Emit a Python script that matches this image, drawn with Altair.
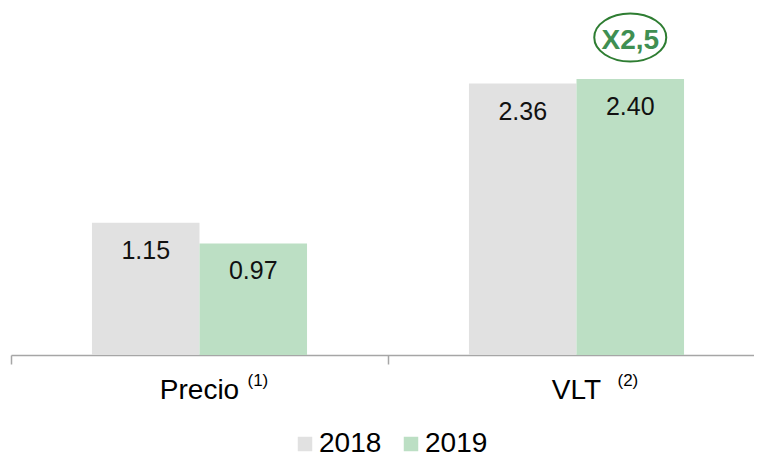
import altair as alt
import pandas as pd

categories = ["Precio", "VLT"]
superscripts = ["(1)", "(2)"]
years = ["2018", "2019"]
values_2018 = [1.15, 2.36]
values_2019 = [0.97, 2.40]
annotation_text = "X2,5"
annotation_category = "VLT"
annotation_year = "2019"
annotation_value = 2.40

colors = ["#e1e1e1", "#bcdfc4"]
FONT = "Liberation Sans"

rows = []
for c, v18, v19 in zip(categories, values_2018, values_2019):
    rows.append({"cat": c, "year": "2018", "value": v18})
    rows.append({"cat": c, "year": "2019", "value": v19})
df = pd.DataFrame(rows)

cat_df = pd.DataFrame({"cat": categories, "sup": superscripts, "zero": [0, 0]})
ann_df = pd.DataFrame({"cat": [annotation_category], "year": [annotation_year],
                       "value": [annotation_value], "label": [annotation_text]})

x_enc = alt.X("cat:N", sort=categories, title=None,
              scale=alt.Scale(paddingInner=0, paddingOuter=0, range=[0, 754]),
              axis=alt.Axis(labels=False, domainColor="#a6a6a6", domainWidth=1.5,
                            tickColor="#a6a6a6", tickWidth=1.5, tickSize=9,
                            bandPosition=0, ticks=True, grid=False))
xo_enc = alt.XOffset("year:N", sort=years,
                     scale=alt.Scale(paddingOuter=0.753, paddingInner=0))
y_enc = alt.Y("value:Q", scale=alt.Scale(domain=[0, 3], nice=False), axis=None)

bars = alt.Chart(df).mark_bar().encode(
    x=x_enc, xOffset=xo_enc, y=y_enc,
    color=alt.Color("year:N", sort=years,
                    scale=alt.Scale(domain=years, range=colors),
                    legend=alt.Legend(title=None, orient="none", direction="horizontal",
                                      legendX=280, legendY=420, padding=0,
                                      symbolType="square", symbolSize=210,
                                      symbolStrokeWidth=0, labelFontSize=28,
                                      labelFont=FONT, labelColor="#000000",
                                      labelOffset=0, columnPadding=15)),
)

value_labels = alt.Chart(df).mark_text(
    baseline="middle", dy=28, fontSize=25, font=FONT, color="#111111"
).encode(x=alt.X("cat:N", sort=categories), xOffset=alt.XOffset("year:N", sort=years),
         y="value:Q", text=alt.Text("value:Q", format=".2f"))

cat_labels = alt.Chart(cat_df).mark_text(
    baseline="alphabetic", dy=44, fontSize=28, font=FONT, color="#000000", align="center"
).encode(x=alt.X("cat:N", sort=categories), y=alt.Y("zero:Q"), text="cat:N")

sup1 = alt.Chart(cat_df).transform_filter(alt.datum.cat == categories[0]).mark_text(
    baseline="alphabetic", dy=31, dx=48, fontSize=17, font=FONT, color="#000000", align="left"
).encode(x=alt.X("cat:N", sort=categories), y=alt.Y("zero:Q"), text="sup:N")

sup2 = alt.Chart(cat_df).transform_filter(alt.datum.cat == categories[1]).mark_text(
    baseline="alphabetic", dy=31, dx=41, fontSize=17, font=FONT, color="#000000", align="left"
).encode(x=alt.X("cat:N", sort=categories), y=alt.Y("zero:Q"), text="sup:N")

ellipse_path = "M -1 0 A 1 0.667 0 1 1 1 0 A 1 0.667 0 1 1 -1 0 Z"
ann_ellipse = alt.Chart(ann_df).mark_point(
    shape=ellipse_path, size=5184, filled=False, stroke="#2e7d32", strokeWidth=2,
    opacity=1, yOffset=-41.5
).encode(x=alt.X("cat:N", sort=categories), xOffset=alt.XOffset("year:N", sort=years),
         y="value:Q")

ann_text = alt.Chart(ann_df).mark_text(
    baseline="middle", dy=-38, fontSize=28, fontWeight="bold", font=FONT, color="#3f8f52"
).encode(x=alt.X("cat:N", sort=categories), xOffset=alt.XOffset("year:N", sort=years),
         y="value:Q", text="label:N")

chart = alt.layer(bars, value_labels, cat_labels, sup1, sup2, ann_ellipse, ann_text).properties(
    width=743, height=345,
    autosize=alt.AutoSizeParams(type="none"),
    padding={"left": 3, "top": 2, "right": 0, "bottom": 103},
).configure(font=FONT, view=alt.ViewConfig(stroke=None))

chart.save("out.html", embed_options={"renderer": "svg", "actions": False})
